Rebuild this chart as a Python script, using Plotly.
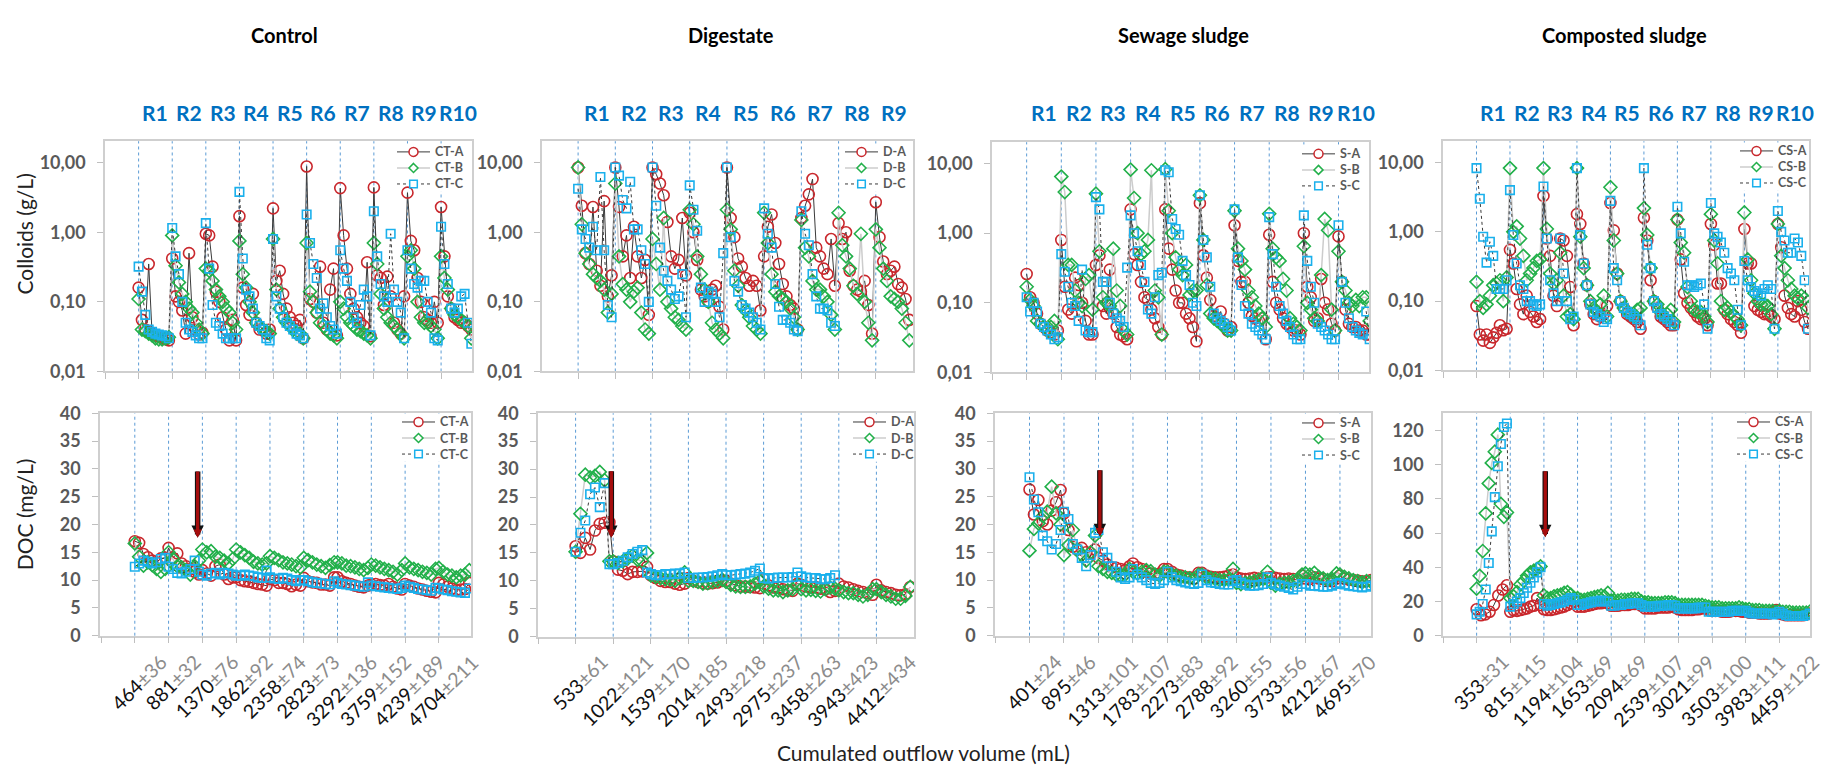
import plotly.graph_objects as go

# ======================= DATA =======================
PANEL_TITLES = ["Control", "Digestate", "Sewage sludge", "Composted sludge"]
SERIES_PREFIX = ["CT", "D", "S", "CS"]

# Cumulated outflow volume tick labels (mean, sd)
CT_vol = ["464", "881", "1370", "1862", "2358", "2823", "3292", "3759", "4239", "4704"]
CT_sd = ["36", "32", "76", "92", "74", "73", "136", "152", "189", "211"]
D_vol = ["533", "1022", "1539", "2014", "2493", "2975", "3458", "3943", "4412"]
D_sd = ["61", "121", "170", "185", "218", "237", "263", "423", "434"]
S_vol = ["401", "895", "1313", "1783", "2273", "2788", "3260", "3733", "4212", "4695"]
S_sd = ["24", "46", "101", "107", "83", "92", "55", "56", "67", "70"]
CS_vol = ["353", "815", "1194", "1653", "2094", "2539", "3021", "3503", "3983", "4459"]
CS_sd = ["31", "115", "104", "69", "69", "107", "99", "100", "111", "122"]

# ---- Colloids (g/L), one list per rain event R1..Rn ----
CT_A_col = [
    [0.16, 0.055, 0.04, 0.35, 0.035, 0.033, 0.032, 0.03, 0.029, 0.028],
    [0.42, 0.12, 0.1, 0.075, 0.035, 0.5, 0.06, 0.04, 0.034, 0.036],
    [0.95, 0.9, 0.32, 0.14, 0.1, 0.06, 0.04, 0.028, 0.055, 0.028],
    [1.7, 0.16, 0.09, 0.065, 0.13, 0.05, 0.04, 0.04, 0.035, 0.04],
    [2.2, 0.2, 0.28, 0.13, 0.08, 0.06, 0.05, 0.045, 0.055, 0.03],
    [8.8, 0.11, 0.1, 0.07, 0.32, 0.05, 0.04, 0.15, 0.3, 0.033],
    [4.3, 0.9, 0.3, 0.13, 0.08, 0.06, 0.05, 0.045, 0.37, 0.032],
    [4.4, 0.24, 0.22, 0.09, 0.23, 0.12, 0.05, 0.04, 0.035, 0.12],
    [3.7, 0.75, 0.55, 0.22, 0.1, 0.06, 0.055, 0.05, 0.1, 0.05],
    [2.3, 0.45, 0.12, 0.08, 0.06, 0.055, 0.05, 0.05, 0.045, 0.04],
]
CT_B_col = [
    [0.11, 0.04, 0.038, 0.035, 0.033, 0.03, 0.029, 0.029, 0.03, 0.031],
    [0.9, 0.33, 0.19, 0.13, 0.1, 0.08, 0.07, 0.05, 0.04, 0.035],
    [0.3, 0.28, 0.2, 0.15, 0.12, 0.1, 0.08, 0.07, 0.05, 0.04],
    [0.75, 0.25, 0.16, 0.1, 0.07, 0.05, 0.045, 0.04, 0.038, 0.035],
    [0.8, 0.15, 0.08, 0.06, 0.05, 0.045, 0.04, 0.035, 0.035, 0.03],
    [0.7, 0.14, 0.1, 0.07, 0.05, 0.045, 0.04, 0.035, 0.033, 0.03],
    [0.1, 0.08, 0.06, 0.05, 0.045, 0.04, 0.038, 0.035, 0.033, 0.03],
    [0.7, 0.35, 0.13, 0.08, 0.06, 0.05, 0.045, 0.04, 0.035, 0.03],
    [0.45, 0.55, 0.3, 0.1, 0.06, 0.05, 0.05, 0.045, 0.04, 0.03],
    [0.45, 0.22, 0.15, 0.08, 0.065, 0.06, 0.055, 0.05, 0.045, 0.03],
]
CT_C_col = [
    [0.32, 0.14, 0.065, 0.04, 0.037, 0.035, 0.034, 0.033, 0.032, 0.03],
    [1.15, 0.45, 0.25, 0.1, 0.05, 0.04, 0.037, 0.033, 0.03, 0.03],
    [1.35, 0.3, 0.09, 0.05, 0.045, 0.035, 0.03, 0.03, 0.03, 0.03],
    [3.8, 0.42, 0.15, 0.12, 0.08, 0.05, 0.045, 0.04, 0.03, 0.028],
    [0.8, 0.12, 0.08, 0.06, 0.05, 0.045, 0.04, 0.035, 0.033, 0.03],
    [1.8, 0.7, 0.35, 0.22, 0.08, 0.095, 0.06, 0.045, 0.04, 0.035],
    [0.55, 0.3, 0.2, 0.1, 0.06, 0.05, 0.09, 0.15, 0.12, 0.033],
    [2.0, 0.45, 0.18, 0.12, 0.1, 0.95, 0.15, 0.1, 0.07, 0.03],
    [0.55, 0.3, 0.18, 0.16, 0.2, 0.2, 0.1, 0.07, 0.03, 0.028],
    [1.2, 0.35, 0.18, 0.08, 0.07, 0.08, 0.12, 0.13, 0.05, 0.025],
]

D_A_col = [
    [8.5, 2.4, 0.5, 0.35, 2.3, 0.28, 0.17, 2.8, 0.12, 0.24],
    [8.5, 2.3, 0.45, 0.9, 0.22, 1.2, 0.45, 0.22, 0.4, 0.065],
    [8.5, 6.8, 5.0, 3.4, 1.4, 0.45, 0.3, 0.4, 1.6, 0.24],
    [1.9, 1.0, 0.4, 0.15, 0.12, 0.1, 0.15, 0.17, 0.085, 0.04],
    [8.5, 1.6, 0.85, 0.42, 0.32, 0.22, 0.17, 0.2, 0.17, 0.075],
    [0.45, 1.2, 1.8, 0.7, 0.35, 0.18, 0.12, 0.09, 0.08, 0.04],
    [1.6, 2.4, 3.5, 5.8, 0.6, 0.45, 0.3, 0.25, 0.8, 0.17],
    [1.35, 0.8, 1.0, 0.28, 0.17, 0.15, 0.14, 0.2, 0.09, 0.035],
    [2.7, 0.85, 0.38, 0.25, 0.28, 0.32, 0.18, 0.16, 0.11, 0.055],
]
D_B_col = [
    [8.5, 1.3, 0.5, 0.35, 0.25, 0.22, 0.2, 0.15, 0.07, 0.13],
    [5.0, 0.45, 0.18, 0.15, 0.1, 0.14, 0.16, 0.07, 0.04, 0.035],
    [0.8, 0.35, 0.15, 1.6, 0.1, 0.08, 0.06, 0.055, 0.045, 0.04],
    [2.1, 1.3, 0.45, 0.25, 0.15, 0.1, 0.05, 0.04, 0.035, 0.03],
    [2.1, 1.1, 0.28, 0.17, 0.09, 0.075, 0.06, 0.045, 0.04, 0.035],
    [1.9, 0.7, 0.25, 0.14, 0.12, 0.11, 0.1, 0.08, 0.06, 0.04],
    [1.5, 0.6, 0.45, 0.2, 0.15, 0.15, 0.12, 0.1, 0.065, 0.04],
    [1.9, 0.65, 0.45, 0.3, 0.17, 0.13, 0.95, 0.1, 0.05, 0.028],
    [1.1, 0.6, 0.3, 0.2, 0.12, 0.11, 0.1, 0.08, 0.05, 0.028],
]
D_C_col = [
    [4.2, 1.1, 0.8, 0.6, 1.2, 0.55, 6.2, 0.55, 0.09, 0.06],
    [8.5, 6.5, 2.9, 2.2, 5.3, 1.1, 1.1, 0.55, 0.35, 0.1],
    [8.5, 2.4, 0.6, 0.28, 0.2, 0.15, 0.11, 0.12, 0.25, 0.06],
    [4.7, 2.1, 1.05, 0.16, 0.1, 0.14, 0.13, 0.1, 0.06, 0.5],
    [8.5, 0.85, 0.2, 0.14, 0.09, 0.08, 0.07, 0.06, 0.05, 0.04],
    [2.2, 0.95, 0.6, 0.18, 0.085, 0.055, 0.055, 0.05, 0.04, 0.038],
    [2.0, 0.95, 0.65, 0.25, 0.12, 0.08, 0.08, 0.075, 0.05, 0.045],
]

S_A_col = [
    [0.26, 0.12, 0.1, 0.07, 0.05, 0.045, 0.04, 0.038, 0.035, 0.04],
    [0.8, 0.17, 0.08, 0.07, 0.23, 0.18, 0.1, 0.055, 0.035, 0.035],
    [0.35, 0.48, 0.09, 0.07, 0.3, 0.07, 0.045, 0.035, 0.033, 0.03],
    [2.2, 0.5, 0.35, 0.2, 0.12, 0.11, 0.08, 0.06, 0.045, 0.035],
    [2.2, 0.6, 0.3, 0.15, 0.1, 0.1, 0.07, 0.06, 0.045, 0.028],
    [2.7, 0.48, 0.23, 0.11, 0.065, 0.06, 0.075, 0.05, 0.04, 0.045],
    [1.3, 0.4, 0.2, 0.2, 0.1, 0.065, 0.06, 0.055, 0.06, 0.03],
    [0.95, 0.2, 0.1, 0.08, 0.06, 0.05, 0.045, 0.04, 0.04, 0.035],
    [1.0, 0.17, 0.12, 0.055, 0.06, 0.22, 0.1, 0.08, 0.05, 0.04],
    [0.9, 0.2, 0.08, 0.05, 0.045, 0.045, 0.04, 0.04, 0.035, 0.035],
]
S_B_col = [
    [0.17, 0.11, 0.09, 0.055, 0.05, 0.045, 0.04, 0.045, 0.055, 0.03],
    [6.5, 3.9, 0.35, 0.35, 0.15, 0.1, 0.09, 0.22, 0.25, 0.08],
    [3.7, 0.55, 0.12, 0.1, 0.09, 0.6, 0.15, 0.09, 0.04, 0.035],
    [8.2, 3.2, 1.0, 0.5, 0.55, 0.8, 8.0, 0.15, 0.12, 0.035],
    [8.3, 2.1, 1.0, 0.45, 0.3, 0.25, 0.35, 0.13, 0.15, 0.15],
    [3.5, 0.8, 0.18, 0.07, 0.06, 0.055, 0.05, 0.045, 0.04, 0.04],
    [2.1, 0.6, 0.4, 0.3, 0.15, 0.12, 0.09, 0.07, 0.06, 0.045],
    [1.9, 0.6, 0.45, 0.4, 0.22, 0.15, 0.06, 0.05, 0.045, 0.04],
    [0.65, 0.1, 0.08, 0.06, 0.055, 0.25, 1.6, 1.1, 0.08, 0.04],
    [0.55, 0.2, 0.15, 0.1, 0.09, 0.11, 0.09, 0.12, 0.12, 0.055],
]
S_C_col = [
    [0.12, 0.075, 0.1, 0.075, 0.05, 0.045, 0.04, 0.035, 0.03, 0.032],
    [0.5, 0.28, 0.17, 0.1, 0.09, 0.055, 0.3, 0.04, 0.038, 0.038],
    [3.3, 2.2, 0.2, 0.2, 0.1, 0.07, 0.06, 0.055, 0.045, 0.32],
    [1.8, 1.0, 0.55, 0.35, 0.2, 0.08, 0.07, 0.12, 0.25, 0.27],
    [8.0, 7.5, 1.6, 1.15, 0.95, 0.4, 0.25, 0.18, 0.1, 0.09],
    [3.5, 0.8, 0.45, 0.17, 0.07, 0.06, 0.055, 0.05, 0.045, 0.04],
    [2.2, 0.45, 0.18, 0.09, 0.07, 0.05, 0.045, 0.04, 0.035, 0.03],
    [1.7, 0.5, 0.17, 0.09, 0.07, 0.055, 0.045, 0.035, 0.03, 0.03],
    [1.8, 0.4, 0.17, 0.1, 0.05, 0.045, 0.04, 0.035, 0.03, 0.03],
    [1.3, 0.2, 0.1, 0.06, 0.045, 0.04, 0.037, 0.035, 0.075, 0.03],
]

CS_A_col = [
    [0.085, 0.033, 0.027, 0.033, 0.025, 0.03, 0.035, 0.045, 0.038, 0.04],
    [0.55, 0.35, 0.15, 0.09, 0.065, 0.12, 0.07, 0.06, 0.05, 0.055],
    [3.3, 0.8, 0.45, 0.12, 0.085, 0.8, 0.75, 0.45, 0.16, 0.045],
    [1.8, 1.3, 0.35, 0.17, 0.09, 0.065, 0.055, 0.06, 0.065, 0.085],
    [2.6, 1.05, 0.25, 0.1, 0.08, 0.065, 0.06, 0.055, 0.05, 0.04],
    [1.6, 0.75, 0.2, 0.1, 0.08, 0.06, 0.055, 0.05, 0.045, 0.045],
    [1.5, 0.4, 0.13, 0.095, 0.08, 0.07, 0.06, 0.055, 0.055, 0.045],
    [1.3, 0.65, 0.18, 0.18, 0.075, 0.065, 0.055, 0.05, 0.045, 0.035],
    [1.1, 0.35, 0.35, 0.085, 0.075, 0.07, 0.065, 0.065, 0.06, 0.055],
    [1.3, 0.6, 0.12, 0.08, 0.065, 0.06, 0.1, 0.075, 0.05, 0.04],
]
CS_B_col = [
    [0.19, 0.1, 0.08, 0.09, 0.12, 0.17, 0.18, 0.2, 0.1, 0.22],
    [8.3, 1.0, 1.2, 0.8, 0.45, 0.2, 0.25, 0.3, 0.38, 0.4],
    [8.3, 1.1, 0.25, 0.18, 0.2, 0.5, 0.12, 0.06, 0.065, 0.055],
    [8.3, 0.85, 0.3, 0.17, 0.1, 0.08, 0.07, 0.09, 0.12, 0.06],
    [4.4, 0.75, 0.25, 0.1, 0.08, 0.07, 0.065, 0.06, 0.075, 0.08],
    [2.2, 0.9, 0.3, 0.1, 0.09, 0.07, 0.06, 0.065, 0.075, 0.05],
    [1.5, 0.7, 0.5, 0.16, 0.1, 0.075, 0.07, 0.07, 0.06, 0.05],
    [1.8, 0.75, 0.35, 0.1, 0.075, 0.08, 0.07, 0.06, 0.055, 0.045],
    [1.9, 0.4, 0.2, 0.13, 0.1, 0.09, 0.09, 0.085, 0.065, 0.04],
    [1.3, 0.45, 0.3, 0.2, 0.15, 0.12, 0.11, 0.12, 0.11, 0.08],
]
CS_C_col = [
    [8.3, 3.0, 0.85, 0.36, 0.72, 0.45, 0.15, 0.15, 0.15, 0.2],
    [4.0, 0.9, 0.35, 0.17, 0.15, 0.1, 0.1, 0.09, 0.085, 0.09],
    [4.5, 0.8, 0.2, 0.13, 0.1, 0.8, 0.25, 0.1, 0.055, 0.06],
    [8.3, 0.9, 0.35, 0.17, 0.09, 0.07, 0.065, 0.06, 0.05, 0.055],
    [2.8, 0.3, 0.2, 0.1, 0.08, 0.07, 0.065, 0.06, 0.055, 0.045],
    [8.3, 0.65, 0.3, 0.1, 0.08, 0.065, 0.06, 0.055, 0.05, 0.045],
    [2.3, 0.95, 0.37, 0.17, 0.17, 0.16, 0.17, 0.18, 0.09, 0.04],
    [2.6, 0.95, 0.85, 0.7, 0.5, 0.3, 0.25, 0.2, 0.075, 0.045],
    [0.38, 0.2, 0.16, 0.14, 0.13, 0.12, 0.15, 0.17, 0.15, 0.04],
    [2.0, 1.0, 0.75, 0.5, 0.5, 0.8, 0.7, 0.45, 0.2, 0.04],
]

# ---- DOC (mg/L), one list per rain event ----
CT_A_doc = [
    [17, 16.7, 14.7, 14.1, 13.5, 13.2, 13.9, 14],
    [15.8, 14, 14.8, 13, 12.5, 12, 11.5, 11],
    [11.8, 11.2, 10.8, 12.5, 12.8, 11, 10.2, 10.5],
    [10.5, 10, 9.8, 9.7, 9.5, 9.3, 9.2, 9],
    [10.2, 10, 9.5, 9.5, 9.3, 8.9, 9.2, 9],
    [10.4, 9.8, 9.6, 9.5, 9.2, 9.2, 9, 10.5],
    [10.5, 9.8, 9.5, 9.3, 9, 8.8, 8.7, 9],
    [9.2, 9.3, 9.1, 9, 9.3, 8.8, 8.5, 8.3],
    [9.3, 9, 8.8, 8.5, 8.3, 8.1, 7.9, 7.8],
    [9.5, 9.2, 8.8, 8.5, 8.2, 8.3, 8.4, 9.5],
]
CT_B_doc = [
    [16.6, 14.2, 12.6, 13.2, 12.7, 12, 11.5, 12],
    [15, 13.8, 12.5, 12.3, 11.8, 11, 12.5, 13.5],
    [15.5, 15, 15.2, 14.2, 14, 13.5, 13, 13.8],
    [15.5, 15, 14.5, 14, 13.3, 13, 12.8, 13],
    [14.3, 14, 13.6, 13.2, 13, 12.8, 12.5, 12.3],
    [14, 13.6, 13.2, 12.8, 12.5, 12.2, 12.7, 13.2],
    [13.2, 13, 12.6, 12.5, 12.3, 12, 11.8, 12.2],
    [12.8, 12.6, 12.3, 12, 11.8, 11.5, 11, 11.8],
    [13, 12.3, 12, 11.8, 11.5, 11.3, 11, 12],
    [12.2, 11.5, 11, 10.8, 10.5, 10.8, 11, 11.8],
]
CT_C_doc = [
    [12.4, 13, 13.5, 13.3, 13, 13.2, 13.8, 14],
    [12.4, 12, 11.3, 11.2, 11.5, 12, 13.5, 11.5],
    [11, 10.8, 11.2, 11.3, 11, 11.3, 11.2, 11],
    [10.8, 10.8, 11, 10.8, 10.7, 10.5, 10.4, 11.7],
    [10.5, 10.3, 10.2, 10.4, 10.3, 10, 9.8, 10],
    [10, 9.8, 9.6, 9.5, 9.4, 9.3, 9.2, 9.8],
    [9.5, 9.3, 9.2, 9.1, 9, 8.9, 8.8, 9.6],
    [9, 8.9, 8.8, 8.7, 8.6, 8.5, 8.4, 8.6],
    [9, 8.8, 8.6, 8.4, 8.3, 8.2, 8.1, 8.6],
    [8.5, 8.3, 8.2, 8, 7.9, 7.8, 7.7, 8.5],
]

D_A_doc = [
    [16.2, 15, 17.7, 15.6, 19, 20.2, 20.4, 20.5],
    [13.5, 12, 11.8, 11.2, 11.6, 11.6, 11.7, 12.5],
    [11, 10.5, 10, 9.8, 9.8, 9.5, 9.3, 9.5],
    [10.5, 10, 9.8, 9.6, 9.5, 9.6, 9.7, 10],
    [10, 9.5, 9.2, 9, 9, 8.9, 8.8, 8.7],
    [10.3, 9.2, 8.8, 8.8, 8.5, 8.3, 8.2, 9.5],
    [9.3, 9, 8.8, 8.9, 8.6, 8.5, 8, 8.2],
    [9.5, 9, 8.8, 8.5, 8.2, 8, 7.8, 7.5],
    [9.3, 8.3, 8, 7.8, 7.5, 7.4, 7.6, 8.9],
]
D_B_doc = [
    [15.2, 22, 29, 28.5, 28.8, 29.5, 28, 13.5],
    [13.5, 13.2, 13.5, 14, 14.5, 13.8, 13.5, 15],
    [11, 10.7, 10.5, 10.3, 10.2, 10, 10.5, 11.5],
    [10, 10, 9.8, 9.5, 9.6, 9.8, 10, 10.2],
    [9.8, 9.3, 9, 8.9, 8.9, 9, 9.5, 10],
    [9, 8.6, 8.3, 8.3, 8, 8.3, 8.5, 9.3],
    [8.5, 8.3, 8.4, 8.2, 8.1, 8.5, 8.8, 8.6],
    [8.3, 8, 7.8, 7.8, 7.5, 7.2, 7.5, 8.5],
    [8.5, 8, 7.5, 7.2, 6.8, 6.8, 7.3, 8.9],
]
D_C_doc = [
    [15.2, 18.6, 20.8, 25.5, 26.7, 23.2, 27.5, 13],
    [13, 13.2, 13.6, 14.2, 14.8, 15.2, 15.5, 11.5],
    [11.2, 11, 11, 11.2, 11.2, 11.3, 11.3, 11.5],
    [10.5, 10.5, 10.6, 10.6, 10.7, 10.8, 11, 11.2],
    [11, 11, 11.1, 11.2, 11.3, 11.5, 11.8, 12.2],
    [10.5, 10.4, 10.5, 10.6, 10.6, 10.6, 10.7, 11.5],
    [10.8, 10.6, 10.5, 10.5, 10.3, 10.3, 10.5, 11],
]

S_A_doc = [
    [26.3, 21.8, 24.4, 20.6, 20, 22.5, 24, 26.2],
    [22, 19, 16, 15.5, 15.8, 15, 14.8, 15.5],
    [14, 13.5, 12.8, 12.3, 12.2, 12, 11.8, 12.5],
    [13, 12.3, 12, 11.5, 11.2, 11, 11.2, 12],
    [12, 11.5, 11, 10.8, 10.5, 10.5, 10.3, 11.3],
    [11.3, 10.8, 10.6, 10.5, 10.5, 10.6, 10.8, 11],
    [10.5, 10.3, 10.2, 10.3, 10.4, 10.3, 10.3, 10.5],
    [10.5, 10.4, 10.3, 10.2, 10.3, 10.2, 10, 10.8],
    [10.3, 10.2, 10.5, 10.3, 10.2, 10, 9.8, 10.3],
    [10.8, 10.3, 10.1, 10, 9.9, 9.8, 9.8, 10],
]
S_B_doc = [
    [15.3, 19.2, 20.2, 21.5, 22.3, 26.8, 22, 20],
    [14.5, 16.3, 19, 15.5, 14.5, 13.5, 15, 18],
    [12.5, 12, 11.5, 11.3, 11, 10.8, 11, 12],
    [11.5, 11.2, 11.5, 11.8, 11.6, 11, 10.8, 11.5],
    [11.5, 11, 10.8, 10.5, 10.5, 10.3, 10.2, 11],
    [11, 10.5, 10.3, 10.2, 10, 10, 10.1, 12],
    [9.5, 9.3, 9.5, 9.6, 9.8, 10, 10.2, 11.5],
    [9.5, 9, 9.3, 9.5, 9.6, 9.8, 10, 11],
    [11.2, 11, 11.3, 10.6, 10.3, 10, 10.2, 11.2],
    [11, 10.6, 10.3, 10, 9.8, 9.6, 9.8, 9.7],
]
S_C_doc = [
    [28.5, 24.5, 22.2, 18, 17, 15.5, 16.5, 19],
    [22.3, 21, 16.5, 15.5, 14, 12.5, 14.5, 18.5],
    [19, 15, 14, 12.5, 11.5, 10.5, 10.2, 10.5],
    [12, 11, 10.5, 10, 9.5, 9.3, 9.5, 10],
    [11.5, 10.5, 10, 9.8, 9.6, 9.4, 9.3, 9.5],
    [11, 10, 9.6, 9.5, 9.3, 9.2, 9.2, 9.8],
    [10, 9.5, 9.2, 9, 9, 9.1, 9.3, 10.5],
    [9.5, 9.2, 9, 8.8, 8.6, 8.3, 8.8, 9.3],
    [9.3, 9, 9, 8.9, 8.8, 8.8, 9, 9.3],
    [9.5, 9.2, 9, 8.9, 8.8, 8.7, 8.8, 9],
]

CS_A_doc = [
    [15.5, 12, 12.5, 14, 18, 23.5, 27, 29.5],
    [14, 15, 14.5, 15, 15.5, 16, 17, 17.5, 22, 18],
    [15.5, 15, 15, 15.5, 16, 16.5, 17, 18, 19, 20],
    [17, 17, 17, 17.5, 18, 18.5, 19, 19, 19.5, 19],
    [17.5, 17.5, 17.5, 18, 18, 18, 18.5, 18.5, 18.5, 17.5],
    [16, 16, 16, 16, 16.5, 16.5, 16.5, 16.5, 17, 16.5],
    [15.5, 15, 15, 15, 15, 15.5, 15.5, 16, 16, 15],
    [14.5, 14.5, 14.5, 14, 14, 14, 14.5, 14.5, 14.5, 14],
    [14, 13.5, 13.5, 13.5, 13, 13, 13, 13, 14, 15],
    [13, 12.5, 12, 12, 12, 12, 12, 12, 12.5, 13],
]
CS_B_doc = [
    [27.5, 35, 49.5, 71.5, 89, 101, 107.5, 117.5, 77, 69.5, 72],
    [22, 23, 25.5, 30, 32, 35, 37, 38, 39, 40.5],
    [23.5, 22, 22, 23, 23.5, 24, 25, 25.5, 24, 22],
    [22, 21, 21, 21.5, 22, 22.5, 23, 23.5, 23, 25],
    [20.5, 20.5, 20.5, 21, 21, 21, 21.5, 21.5, 21.5, 20],
    [19.5, 19.5, 19, 19, 19, 19, 19.5, 19.5, 19.5, 19],
    [18, 18, 18, 18, 18, 18, 18, 18, 17.5, 17],
    [16.5, 16.5, 16.5, 16, 16, 16, 16, 16, 16.5, 16],
    [15.5, 15.5, 15, 15, 15, 14.5, 14.5, 14.5, 14.5, 14],
    [14.5, 14, 14, 14, 13.5, 13.5, 13.5, 13.5, 13.5, 14],
]
CS_C_doc = [
    [12.5, 14, 18.5, 27, 42.5, 61, 81, 99, 112, 122, 124],
    [17, 18.5, 20, 22, 25, 28, 31, 34, 37, 40],
    [18.5, 17.5, 18, 18.5, 19, 19.5, 20, 21, 22, 21],
    [18, 18, 18.5, 19, 19.5, 20, 20, 20.5, 20, 20],
    [17.5, 17.5, 18, 18, 18.5, 18.5, 19, 19, 19, 18],
    [17, 17, 17, 17, 17.5, 17.5, 17.5, 18, 18, 17.5],
    [16, 16, 16, 16, 16, 16, 16.5, 16.5, 16.5, 14],
    [14, 14, 14, 14, 14, 14, 14.5, 14.5, 14.5, 14.5],
    [14.5, 13.5, 13, 13, 13, 13, 13, 13, 12.5, 13],
    [14, 13, 12, 11.5, 11.5, 11.5, 11.5, 11.5, 12, 13],
]

COL_DATA = [(CT_A_col, CT_B_col, CT_C_col), (D_A_col, D_B_col, D_C_col),
            (S_A_col, S_B_col, S_C_col), (CS_A_col, CS_B_col, CS_C_col)]
DOC_DATA = [(CT_A_doc, CT_B_doc, CT_C_doc), (D_A_doc, D_B_doc, D_C_doc),
            (S_A_doc, S_B_doc, S_C_doc), (CS_A_doc, CS_B_doc, CS_C_doc)]
VOL = [(CT_vol, CT_sd), (D_vol, D_sd), (S_vol, S_sd), (CS_vol, CS_sd)]
N_EVENTS = [10, 9, 10, 10]
ARROWS = [(2.86, 17.6, 29.8), (1.95, 17.7, 29.9), (3.04, 17.9, 30.0), (3.04, 57.6, 97.0)]

# ======================= LAYOUT GEOMETRY (pixels) =======================
W, H = 1825, 773
TOP_BOX = [(105, 472, 133, 370), (542, 913, 133, 370), (992, 1369, 134, 371), (1443, 1809, 133, 369)]
BOT_BOX = [(100, 471, 413, 642), (538, 914, 413, 643), (995, 1371, 413, 642), (1443, 1810, 413, 642)]
TOP_XR = [[0, 10.92], [0.03, 10.0], [0, 10.88], [0, 10.93]]
BOT_XR = [[-0.03, 10.95], [0, 10.0], [0, 10.9], [0, 10.91]]
TITLE_X = [284, 731, 1183, 1624]
LEG_TOP = [(397, 144), (845, 144), (1302, 146), (1740, 143)]
LEG_BOT = [(402, 422), (853, 422), (1302, 423), (1737, 422)]
LEG_STEP = 16.5

FONT = "Lato"
GREY = "#595959"
RED, GREEN, BLUE = "#C9282D", "#22B04A", "#1AB0EC"
LINE_STY = [dict(color="#3A3A3A", width=1), dict(color="#CCCCCC", width=1.5),
            dict(color="#3A3A3A", width=1, dash="dot")]
MCOL = [RED, GREEN, BLUE]


def px_x(p):
    return p / W


def px_y(p):
    return 1 - p / H


def flatten(segs, width=0.9):
    xs, ys = [], []
    for i, seg in enumerate(segs):
        n = len(seg)
        for j, v in enumerate(seg):
            xs.append(i + 1 + (j * width / (n - 1) if n > 1 else 0))
            ys.append(v)
    return xs, ys


fig = go.Figure()

MARK = [dict(symbol="circle-open", size=11), dict(symbol="diamond-open", size=10),
        dict(symbol="square-open", size=8.5)]

layout = dict(width=W, height=H, margin=dict(l=0, r=0, t=0, b=0),
              paper_bgcolor="white", plot_bgcolor="white",
              font=dict(family=FONT, color="#222222"), showlegend=False)
shapes, annots, legend_shapes = [], [], []


def add_legend(prefix, ix, iy):
    # white background covering the separator lines
    shapes.append(dict(type="rect", xref="paper", yref="paper", x0=px_x(ix - 3), x1=px_x(ix + 70),
                       y0=px_y(iy + 2 * LEG_STEP + 8), y1=px_y(iy - 8), fillcolor="white",
                       line=dict(width=0), layer="below"))
    for s in range(3):
        cy = iy + s * LEG_STEP
        cx = ix + 16.5
        legend_shapes.append(dict(type="line", xref="paper", yref="paper", x0=px_x(ix), x1=px_x(ix + 33),
                                  y0=px_y(cy), y1=px_y(cy), line=LINE_STY[s], layer="above"))
        base = dict(xref="paper", yref="paper", xsizemode="pixel", ysizemode="pixel",
                    xanchor=px_x(cx), yanchor=px_y(cy), fillcolor="white",
                    line=dict(color=MCOL[s], width=1.5), layer="above")
        if s == 0:
            legend_shapes.append(dict(type="circle", x0=-4.5, x1=4.5, y0=-4.5, y1=4.5, **base))
        elif s == 1:
            legend_shapes.append(dict(type="path", path="M 0 4.5 L 4.5 0 L 0 -4.5 L -4.5 0 Z", **base))
        else:
            legend_shapes.append(dict(type="rect", x0=-3.8, x1=3.8, y0=-3.8, y1=3.8, **base))
        annots.append(dict(text=f"{prefix}-{'ABC'[s]}", xref="paper", yref="paper", x=px_x(ix + 36),
                           y=px_y(cy), xanchor="left", yanchor="middle", showarrow=False,
                           font=dict(family=FONT, size=12.5, color=GREY, weight="bold")))


for p in range(4):
    for row in range(2):
        k = p + 1 + 4 * row
        xa, ya = ("x" if k == 1 else f"x{k}"), ("y" if k == 1 else f"y{k}")
        data = COL_DATA[p] if row == 0 else DOC_DATA[p]
        for s in range(3):
            xs, ys = flatten(data[s])
            fig.add_trace(go.Scatter(
                x=xs, y=ys, mode="lines+markers", name=f"{SERIES_PREFIX[p]}-{'ABC'[s]}",
                xaxis=xa, yaxis=ya,
                marker=dict(color=MCOL[s], line=dict(width=1.6, color=MCOL[s]), **MARK[s]),
                line=LINE_STY[s]))
        box = TOP_BOX[p] if row == 0 else BOT_BOX[p]
        xr = TOP_XR[p] if row == 0 else BOT_XR[p]
        n = N_EVENTS[p]
        layout[f"xaxis{k}"] = dict(domain=[px_x(box[0]), px_x(box[1])], range=xr, anchor=ya,
                                   showline=True, mirror=True, linecolor="#CFCFCF", linewidth=1.5,
                                   ticks="outside", tickvals=list(range(0, n + 1)), ticklen=6,
                                   tickcolor="#BFBFBF", showticklabels=False, showgrid=False,
                                   zeroline=False)
        yd = dict(domain=[px_y(box[3]), px_y(box[2])], anchor=xa, showline=True, mirror=True,
                  linecolor="#CFCFCF", linewidth=1.5, ticks="outside", ticklen=6,
                  tickcolor="#BFBFBF", showgrid=False, zeroline=False, ticklabelstandoff=8,
                  tickfont=dict(family=FONT, size=18, color=GREY, weight="bold"))
        if row == 0:
            yd.update(type="log", range=[-2, 1.307], tickvals=[0.01, 0.1, 1, 10],
                      ticktext=["0,01", "0,10", "1,00", "10,00"])
        elif p == 3:
            yd.update(range=[0, 130], tickvals=list(range(0, 121, 20)))
        else:
            yd.update(range=[0, 40], tickvals=list(range(0, 41, 5)))
        layout[f"yaxis{k}"] = yd

        # dotted event separators
        for i in range(1, n + 1):
            shapes.append(dict(type="line", xref=xa, yref=f"{ya} domain", x0=i, x1=i, y0=0, y1=1,
                               line=dict(color="#5B9BD5", width=1, dash="dot"), layer="below"))

        lx, ly = LEG_TOP[p] if row == 0 else LEG_BOT[p]
        add_legend(SERIES_PREFIX[p], lx, ly)

        if row == 0:
            for i in range(n):
                annots.append(dict(text=f"R{i + 1}", xref=xa, yref="paper", x=i + 1.5, y=px_y(103),
                                   showarrow=False, xanchor="center", yanchor="middle",
                                   font=dict(family=FONT, size=21, color="#0070C0", weight="bold")))
        else:
            vols, sds = VOL[p]
            for i, (v, sd) in enumerate(zip(vols, sds)):
                annots.append(dict(text=f"{v}<span style='color:#8C8C8C'>±{sd}</span>",
                                   xref=xa, yref="paper", x=i + 1, y=px_y(654), xshift=4,
                                   showarrow=False, xanchor="center", yanchor="top", textangle=-45,
                                   font=dict(family=FONT, size=19.5, color="#111111")))
            ax_, tip, top = ARROWS[p]
            for wdt, col, sz in ((5.5, "#111111", 0.45), (3.3, "#A50D0D", 0.5)):
                annots.append(dict(x=ax_, y=tip, ax=ax_, ay=top, xref=xa, yref=ya, axref=xa, ayref=ya,
                                   text="", showarrow=True, arrowhead=2, arrowsize=sz,
                                   arrowwidth=wdt, arrowcolor=col))

    annots.append(dict(text=PANEL_TITLES[p], xref="paper", yref="paper", x=px_x(TITLE_X[p]), y=px_y(24),
                       showarrow=False, xanchor="center", yanchor="middle",
                       font=dict(family=FONT, size=20, color="#000000", weight="bold")))

annots.append(dict(text="Colloids (g/L)", xref="paper", yref="paper", x=px_x(24), y=px_y(229),
                   showarrow=False, textangle=-90, xanchor="center", yanchor="middle",
                   font=dict(family=FONT, size=21, color="#222222")))
annots.append(dict(text="DOC (mg/L)", xref="paper", yref="paper", x=px_x(24), y=px_y(517),
                   showarrow=False, textangle=-90, xanchor="center", yanchor="middle",
                   font=dict(family=FONT, size=21, color="#222222")))
annots.append(dict(text="Cumulated outflow volume (mL)", xref="paper", yref="paper", x=px_x(924),
                   y=px_y(762), showarrow=False, xanchor="center", yanchor="middle",
                   font=dict(family=FONT, size=21, color="#222222")))

layout["shapes"] = shapes + legend_shapes
layout["annotations"] = annots
fig.update_layout(**layout)
fig.write_html("out.html")
